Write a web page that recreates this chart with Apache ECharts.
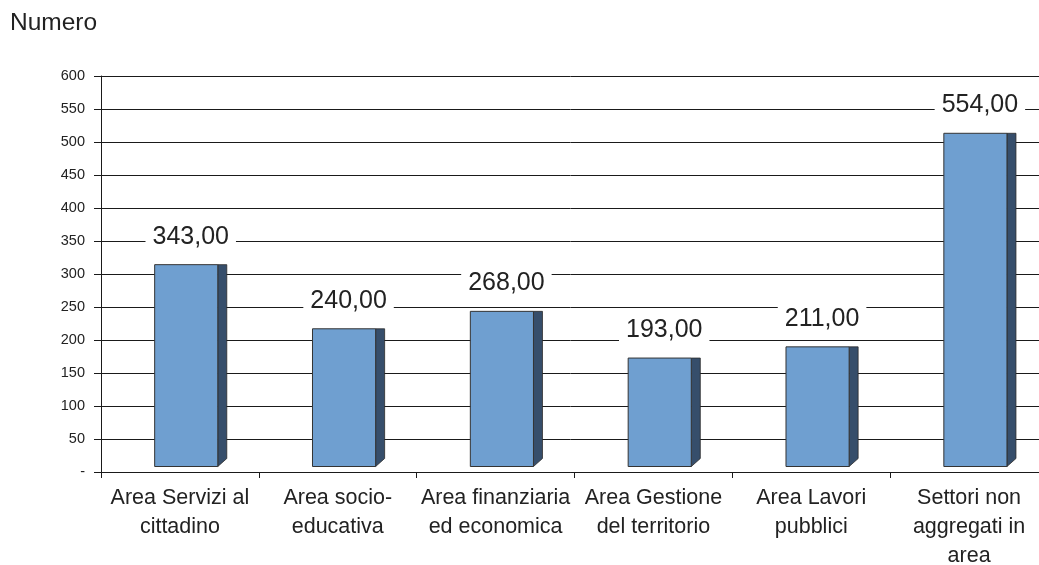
<!DOCTYPE html>
<html>
<head>
<meta charset="utf-8">
<script src="https://cdn.jsdelivr.net/npm/echarts@6/dist/echarts.min.js"></script>
<style>
html,body{margin:0;padding:0;background:#fff;}
#chart{width:1039px;height:565px;}
</style>
</head>
<body>
<div id="chart"></div>
<script>
const categories = [
  'Area Servizi al\ncittadino',
  'Area socio-\neducativa',
  'Area finanziaria\ned economica',
  'Area Gestione\ndel territorio',
  'Area Lavori\npubblici',
  'Settori non\naggregati in\narea'
];
const values = [343, 240, 268, 193, 211, 554];
const yAxisTitle = 'Numero';

const FONT = '"Liberation Sans", Arial, sans-serif';
const chart = echarts.init(document.getElementById('chart'));

function fmt(v) { return v.toFixed(2).replace('.', ','); }

function renderItem(params, api) {
  const idx = api.value(0);
  const v = api.value(1);
  const top = api.coord([idx, v]);
  const band = api.size([1, 0])[0];
  const cs = params.coordSys;
  const base = cs.y + cs.height - 5.5;
  const fw = band * 0.4;
  const left = top[0] - band * 0.16;
  const d = 9;
  const ty = top[1];
  return {
    type: 'group',
    children: [
      {
        type: 'polygon',
        shape: { points: [[left + fw, ty], [left + fw + d, ty], [left + fw + d, base - d + 1], [left + fw, base]] },
        style: { fill: '#364E6B', stroke: '#2b2b2b', lineWidth: 0.8 }
      },
      {
        type: 'rect',
        shape: { x: left, y: ty, width: fw, height: base - ty },
        style: { fill: '#6F9FD0', stroke: '#333', lineWidth: 1 }
      },
      {
        type: 'text',
        style: {
          text: fmt(v),
          x: left + (fw + d) / 2,
          y: ty - 28,
          align: 'center',
          verticalAlign: 'middle',
          font: '25px ' + FONT,
          fill: '#222',
          backgroundColor: '#fff',
          padding: [3, 7, 9, 7]
        }
      }
    ]
  };
}

chart.setOption({
  animation: false,
  backgroundColor: '#fff',
  title: {
    text: yAxisTitle,
    left: 5,
    top: 6,
    textStyle: { fontFamily: FONT, fontSize: 24.5, fontWeight: 'normal', color: '#222' }
  },
  grid: { left: 101, top: 76, width: 947, height: 396, containLabel: false, outerBoundsMode: 'none' },
  xAxis: {
    type: 'category',
    data: categories,
    boundaryGap: true,
    axisLine: { lineStyle: { color: '#1a1a1a', width: 1 } },
    axisTick: { show: true, interval: 0, length: 6, lineStyle: { color: '#1a1a1a' } },
    axisLabel: {
      interval: 0,
      margin: 12,
      fontFamily: FONT,
      fontSize: 21.5,
      lineHeight: 29,
      color: '#222',
      align: 'center'
    }
  },
  yAxis: [
    {
      type: 'value',
      min: 0,
      max: 600,
      interval: 50,
      axisLine: { show: true, lineStyle: { color: '#1a1a1a', width: 1 } },
      axisTick: { show: true, length: 7, lineStyle: { color: '#1a1a1a' } },
      splitLine: { show: true, lineStyle: { color: '#1a1a1a', width: 1 } },
      axisLabel: {
        margin: 16,
        fontFamily: FONT,
        fontSize: 14.5,
        color: '#222',
        formatter: v => (v === 0 ? '-' : String(v))
      }
    },
    {
      type: 'value',
      min: 10,
      max: 646,
      show: false,
      splitLine: { show: false }
    }
  ],
  series: [
    {
      type: 'custom',
      xAxisIndex: 0,
      yAxisIndex: 1,
      renderItem: renderItem,
      encode: { x: 0, y: 1 },
      data: values.map((v, i) => [i, v]),
      clip: false,
      z: 10
    }
  ]
});
</script>
</body>
</html>
